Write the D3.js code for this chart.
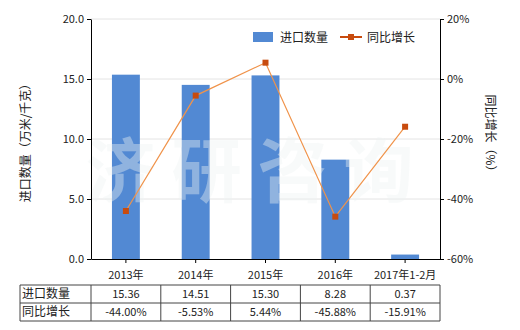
<!DOCTYPE html>
<html>
<head>
<meta charset="utf-8">
<script src="https://cdn.jsdelivr.net/npm/d3@7"></script>
<style>
  body { margin: 0; background: #fff; }
  svg { font-family: "Noto Sans CJK SC", "Noto Sans", sans-serif; }
</style>
</head>
<body>
<svg id="chart"></svg>
<script>
// data
const categories = ["2013年", "2014年", "2015年", "2016年", "2017年1-2月"];
const importQty = [15.36, 14.51, 15.30, 8.28, 0.37];
const yoyGrowth = [-44.00, -5.53, 5.44, -45.88, -15.91];
const qtyLabels = ["15.36", "14.51", "15.30", "8.28", "0.37"];
const growthLabels = ["-44.00%", "-5.53%", "5.44%", "-45.88%", "-15.91%"];
const leftTicks = [0, 5, 10, 15, 20];
const rightTicks = [-60, -40, -20, 0, 20];

const width = 520, height = 330;
const margin = { left: 91, right: 80, top: 19, bottom: 71 };
const plotW = width - margin.left - margin.right;
const plotH = height - margin.top - margin.bottom;
const barColor = "#5289d3";
const lineColor = "#f0934a";
const markColor = "#c84b0e";

const svg = d3.select("#chart")
    .attr("width", width)
    .attr("height", height);

const g = svg.append("g")
    .attr("transform", `translate(${margin.left},${margin.top})`);

const x = d3.scaleBand().domain(categories).range([0, plotW]);
const yL = d3.scaleLinear().domain([0, 20]).range([plotH, 0]);
const yR = d3.scaleLinear().domain([-60, 20]).range([plotH, 0]);

// grid
g.selectAll(".grid")
    .data(leftTicks.slice(1))
    .enter()
    .append("line")
    .attr("x1", 0).attr("x2", plotW)
    .attr("y1", d => yL(d)).attr("y2", d => yL(d))
    .attr("stroke", "#e4e4e4")
    .attr("stroke-width", 1);

// bars
const barW = x.bandwidth() * 0.4;
g.selectAll(".bar")
    .data(importQty)
    .enter()
    .append("rect")
    .attr("x", (d, i) => x(categories[i]) + (x.bandwidth() - barW) / 2)
    .attr("y", d => yL(d))
    .attr("width", barW)
    .attr("height", d => plotH - yL(d))
    .attr("fill", barColor);

// watermark
g.append("text")
    .attr("x", plotW / 2 - 8)
    .attr("y", 178)
    .attr("text-anchor", "middle")
    .attr("font-size", 70)
    .attr("font-weight", "bold")
    .attr("letter-spacing", 16)
    .attr("fill", "#eef2f2")
    .attr("fill-opacity", 0.4)
    .text("济研咨询");

// line
const line = d3.line()
    .x((d, i) => x(categories[i]) + x.bandwidth() / 2)
    .y(d => yR(d));

g.append("path")
    .datum(yoyGrowth)
    .attr("d", line)
    .attr("fill", "none")
    .attr("stroke", lineColor)
    .attr("stroke-width", 1.2);

g.selectAll(".mark")
    .data(yoyGrowth)
    .enter()
    .append("rect")
    .attr("x", (d, i) => x(categories[i]) + x.bandwidth() / 2 - 3)
    .attr("y", d => yR(d) - 3)
    .attr("width", 6)
    .attr("height", 6)
    .attr("fill", markColor);

// axes
const axL = g.append("g")
    .call(d3.axisLeft(yL).tickValues(leftTicks).tickFormat(d3.format(".1f")).tickSize(4).tickSizeOuter(0));
const axR = g.append("g")
    .attr("transform", `translate(${plotW},0)`)
    .call(d3.axisRight(yR).tickValues(rightTicks).tickFormat(d => d + "%").tickSize(4).tickSizeOuter(0));
const axB = g.append("g")
    .attr("transform", `translate(0,${plotH})`)
    .call(d3.axisBottom(x).tickSize(4).tickSizeOuter(0));

[axL, axR, axB].forEach(a => {
    a.selectAll("path, line").attr("stroke", "#000");
    a.selectAll("text").attr("fill", "#222").attr("font-size", 11)
        .attr("font-family", "'Noto Sans CJK SC', sans-serif");
});
axB.selectAll("text").attr("dy", "1.2em");

// axis titles
svg.append("text")
    .attr("transform", `translate(30,${margin.top + plotH / 2 + 1}) rotate(-90)`)
    .attr("text-anchor", "middle")
    .attr("font-size", 12)
    .attr("fill", "#222")
    .text("进口数量（万米/千克）");

svg.append("text")
    .attr("transform", `translate(486,${margin.top + plotH / 2 - 3}) rotate(90)`)
    .attr("text-anchor", "middle")
    .attr("font-size", 12)
    .attr("fill", "#222")
    .text("同比增长（%）");

// legend
const lg = svg.append("g").attr("transform", "translate(253,32)");
lg.append("rect").attr("x", 0).attr("y", 0).attr("width", 20).attr("height", 10).attr("fill", barColor);
lg.append("text").attr("x", 27).attr("y", 9.5).attr("font-size", 12).attr("fill", "#222").text("进口数量");
lg.append("line").attr("x1", 87).attr("x2", 109).attr("y1", 5).attr("y2", 5)
    .attr("stroke", markColor).attr("stroke-width", 2);
lg.append("rect").attr("x", 95).attr("y", 2).attr("width", 6).attr("height", 6).attr("fill", markColor);
lg.append("text").attr("x", 114).attr("y", 9.5).attr("font-size", 12).attr("fill", "#222").text("同比增长");

// table
const tableTop = 285, rowH = 18, tableLeft = 20;
const rows = [["进口数量", qtyLabels], ["同比增长", growthLabels]];
const tg = svg.append("g");
const tStroke = "#444";

rows.forEach((r, ri) => {
    const ty = tableTop + ri * rowH;
    tg.append("text")
        .attr("x", tableLeft + 2)
        .attr("y", ty + rowH / 2 + 4)
        .attr("font-size", 12)
        .attr("fill", "#222")
        .text(r[0]);
    r[1].forEach((v, i) => {
        tg.append("text")
            .attr("x", margin.left + x(categories[i]) + x.bandwidth() / 2)
            .attr("y", ty + rowH / 2 + 4)
            .attr("text-anchor", "middle")
            .attr("font-size", 11)
            .attr("fill", "#222")
            .text(v);
    });
});

// table lines
[0, 1, 2].forEach(k => {
    tg.append("line")
        .attr("x1", tableLeft).attr("x2", margin.left + plotW)
        .attr("y1", tableTop + k * rowH).attr("y2", tableTop + k * rowH)
        .attr("stroke", tStroke);
});
const vx = [tableLeft, margin.left].concat(categories.map(c => margin.left + x(c) + x.bandwidth()));
vx.forEach(v => {
    tg.append("line")
        .attr("x1", v).attr("x2", v)
        .attr("y1", tableTop).attr("y2", tableTop + 2 * rowH)
        .attr("stroke", tStroke);
});
</script>
</body>
</html>
